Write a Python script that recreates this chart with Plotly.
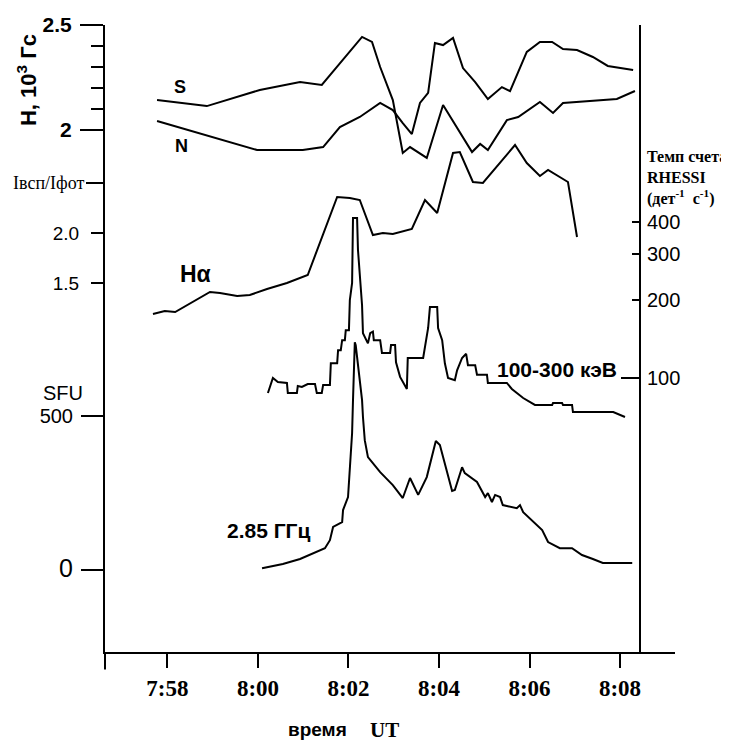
import plotly.graph_objects as go

# time in minutes after 8:00 UT
tick_pos = [-2, 0, 2, 4, 6, 8]
tick_lbl = ["7:58", "8:00", "8:02", "8:04", "8:06", "8:08"]

# magnetic field S (10^3 G)
s_t = [-2.23, -1.13, 0.04, 0.93, 1.41, 2.30, 2.52, 2.70, 2.98, 3.20, 3.36, 3.73, 4.09, 4.73,
       4.91, 5.08, 5.50, 5.75, 6.23, 6.52, 6.74, 7.93, 8.33]
s_h = [2.141, 2.112, 2.189, 2.227, 2.213, 2.443, 2.419, 2.299, 2.141, 1.888, 1.916, 1.864, 2.117, 1.892,
       1.931, 1.902, 2.045, 2.060, 2.132, 2.079, 2.127, 2.146, 2.184]

# magnetic field N (10^3 G)
n_t = [-2.23, -0.02, 0.99, 1.44, 1.81, 2.25, 2.70, 2.98, 3.20, 3.40, 3.58, 3.76, 3.91, 4.09, 4.31,
       4.53, 4.80, 5.08, 5.39, 5.57, 5.94, 6.23, 6.50, 6.74, 7.05, 7.40, 7.73, 8.04, 8.29]
n_h = [2.041, 1.902, 1.902, 1.916, 2.012, 2.060, 2.127, 2.093, 2.031, 1.978, 2.127, 2.175, 2.414, 2.404, 2.438,
       2.294, 2.227, 2.146, 2.203, 2.184, 2.371, 2.419, 2.419, 2.385, 2.380, 2.347, 2.304, 2.294, 2.285]

# H-alpha I_fl/I_phot
ha_t = [-2.32, -2.06, -1.83, -1.57, -1.06, -0.84, -0.46, -0.18, 0.20, 0.64, 1.10, 1.75, 2.03, 2.25,
        2.54, 2.76, 2.98, 3.40, 3.69, 3.96, 4.31, 4.46, 4.75, 4.97, 5.68, 5.94, 6.23, 6.41, 6.85, 7.05]
ha_v = [1.19, 1.22, 1.21, 1.28, 1.41, 1.40, 1.37, 1.38, 1.44, 1.50, 1.58, 2.36, 2.35, 2.33,
        1.98, 2.00, 1.99, 2.04, 2.33, 2.20, 2.80, 2.81, 2.51, 2.50, 2.88, 2.70, 2.57, 2.63, 2.51, 1.96]

# RHESSI 100-300 keV count rate (det^-1 s^-1)
rh_t = [0.22, 0.33, 0.44, 0.64, 0.66, 0.86, 0.88, 0.97, 1.10, 1.26, 1.30, 1.41, 1.44, 1.59, 1.61,
        1.75, 1.77, 1.83, 1.86, 1.92, 1.94, 2.01, 2.03, 2.08, 2.10, 2.19, 2.21, 2.25, 2.30, 2.32,
        2.43, 2.48, 2.54, 2.56, 2.70, 2.74, 2.92, 2.94, 3.03, 3.05, 3.14, 3.29, 3.31, 3.65, 3.69,
        3.76, 3.80, 3.96, 3.98, 4.07, 4.13, 4.20, 4.35, 4.40, 4.51, 4.60, 4.64, 4.80, 4.84, 5.06,
        5.08, 5.50, 5.61, 5.86, 6.12, 6.50, 6.52, 6.72, 6.74, 6.94, 6.96, 7.85, 8.11]
rh_v = [87.5, 100, 96.5, 95.7, 87.5, 87.5, 93.1, 92.3, 94.8, 94.8, 87.5, 87.5, 94, 94, 114,
        114, 128, 128, 140, 140, 153, 153, 200, 233, 415, 415, 312, 239, 191, 149,
        136, 149, 151, 140, 140, 125, 125, 134, 134, 115, 101, 90.7, 119.5, 119.5, 132,
        156, 188, 188, 156, 140, 114, 100, 98, 107, 119.5, 124, 112, 112, 103, 103,
        95.7, 95.7, 90.7, 83.7, 78.7, 78.7, 80, 80, 78.7, 78.7, 73.9, 73.9, 70.7]

# 2.85 GHz radio flux (SFU)
rd_t = [0.09, 0.55, 0.93, 1.22, 1.48, 1.59, 1.66, 1.86, 1.88, 1.99, 2.03, 2.08, 2.10, 2.14, 2.16,
        2.25, 2.30, 2.32, 2.36, 2.43, 2.70, 2.98, 3.20, 3.36, 3.54, 3.73, 3.93, 4.02, 4.29, 4.35,
        4.51, 4.57, 4.84, 5.02, 5.08, 5.17, 5.24, 5.35, 5.41, 5.72, 5.79, 5.86, 6.28, 6.41, 6.67,
        6.94, 7.16, 7.40, 7.62, 8.27]
rd_v = [6, 20, 36, 55, 71, 97, 140, 156, 195, 237, 334, 445, 552, 740, 730,
        601, 552, 497, 422, 367, 318, 276, 234, 299, 244, 302, 419, 406, 257, 260,
        334, 315, 286, 237, 250, 221, 244, 237, 211, 201, 211, 188, 130, 91, 71,
        71, 49, 36, 23, 23]

line = dict(color="black", width=2)
fig = go.Figure()
fig.add_trace(go.Scatter(x=s_t, y=s_h, mode="lines", line=line, yaxis="y"))
fig.add_trace(go.Scatter(x=n_t, y=n_h, mode="lines", line=line, yaxis="y"))
fig.add_trace(go.Scatter(x=ha_t, y=ha_v, mode="lines", line=line, yaxis="y2"))
fig.add_trace(go.Scatter(x=rd_t, y=rd_v, mode="lines", line=line, yaxis="y3"))
fig.add_trace(go.Scatter(x=rh_t, y=rh_v, mode="lines", line=line, yaxis="y4"))

sans = "Liberation Sans"
serif = "Liberation Serif"
common = dict(showgrid=False, zeroline=False, automargin=False, tickcolor="black", tickwidth=2)

# the page body adds an 8 px offset, so the figure is 8 px smaller on each axis
fig.update_layout(
    width=721, height=734,
    margin=dict(l=97, r=54, t=17, b=90),
    paper_bgcolor="white", plot_bgcolor="white",
    showlegend=False,
    xaxis=dict(range=[-3.38, 9.215], tickmode="array", tickvals=tick_pos, ticktext=tick_lbl,
               ticks="outside", ticklen=14, showline=True, linecolor="black", linewidth=2,
               tickfont=dict(family=serif, size=23, color="black", weight="bold"),
               ticklabelstandoff=0, **common),
    yaxis=dict(range=[-0.5, 2.5], tickmode="array", tickvals=[2.0, 2.5], ticktext=["2", "2.5"],
               ticks="outside", ticklen=23, showline=True, linecolor="black", linewidth=2,
               tickfont=dict(family=sans, size=21, color="black", weight="bold"),
               ticklabelstandoff=4,
               minor=dict(tickmode="array", tickvals=[2.1, 2.2, 2.3, 2.4], ticks="outside",
                          ticklen=12, tickcolor="black", tickwidth=2, showgrid=False),
               **common),
    yaxis2=dict(range=[-2.19, 4.08], overlaying="y", anchor="x", side="left",
                tickmode="array", tickvals=[1.5, 2.0], ticktext=["1.5", "2.0"],
                ticks="outside", ticklen=13, showline=False,
                tickfont=dict(family=sans, size=19, color="black"),
                ticklabelstandoff=8,
                minor=dict(tickmode="array", tickvals=[2.5], ticks="outside", ticklen=18,
                           tickcolor="black", tickwidth=2, showgrid=False),
                **common),
    yaxis3=dict(range=[-266, 1770], overlaying="y", anchor="x", side="left",
                tickmode="array", tickvals=[0, 500],
                ticktext=['<span style="font-size:25px">0</span>', "500"],
                ticks="outside", ticklen=23, showline=False,
                tickfont=dict(family=sans, size=20, color="black"),
                ticklabelstandoff=4, **common),
    yaxis4=dict(type="log", range=[0.942, 3.363], overlaying="y", anchor="free", position=0.9386,
                side="right", tickmode="array", tickvals=[100, 200, 300, 400],
                ticktext=["100", "200", "300", "400"],
                ticks="inside", ticklen=7, showline=True, linecolor="black", linewidth=2,
                tickfont=dict(family=sans, size=20, color="black"),
                ticklabelstandoff=2,
                minor=dict(tickmode="array", tickvals=[100], ticks="inside", ticklen=18,
                           tickcolor="black", tickwidth=2, showgrid=False),
                **common),
)

fig.add_shape(type="line", xref="paper", yref="paper", x0=0, x1=0, y0=0, y1=-0.028,
              line=dict(color="black", width=2))

def ann(text, x, y, xref, yref, size, family=sans, bold=True, xanchor="center", **kw):
    fig.add_annotation(text=text, x=x, y=y, xref=xref, yref=yref, showarrow=False,
                       xanchor=xanchor, yanchor="middle",
                       font=dict(family=family, size=size, color="black",
                                 weight="bold" if bold else "normal"), **kw)

ann("S", -1.72, 2.203, "x", "y", 18)
ann("N", -1.68, 1.921, "x", "y", 18)
ann("Hα", -1.37, 1.59, "x", "y2", 23)
ann("100-300 кэВ", 6.61, 2.031, "x", "y4", 21)
ann("2.85 ГГц", 0.24, 130, "x", "y3", 21)
ann("SFU", -0.035, 575, "paper", "y3", 20, bold=False, xanchor="right")
ann("Iвсп/Iфот", -0.033, 2.5, "paper", "y2", 18, family=serif, bold=False, xanchor="right")
ann("H, 10<sup>3</sup> Гс", -0.137, 0.912, "paper", "paper", 22, textangle=-90)
ann("Темп счета<br>RHESSI<br>(дет<sup>-1</sup>  с<sup>-1</sup>)", 0.947, 0.756, "paper", "paper", 16,
    family=serif, xanchor="left", align="left")
ann("время", 0.372, -0.1244, "paper", "paper", 19)
ann("UT", 0.491, -0.1244, "paper", "paper", 21, family=serif)

fig.write_html("out.html")
